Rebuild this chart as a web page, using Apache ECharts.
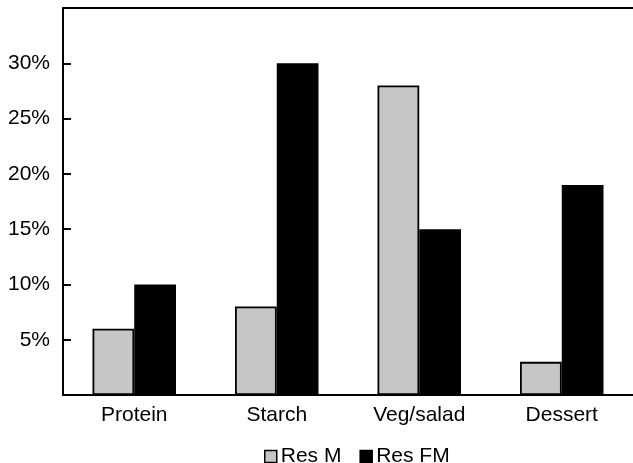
<!DOCTYPE html>
<html>
<head>
<meta charset="utf-8">
<script src="https://cdn.jsdelivr.net/npm/echarts@6/dist/echarts.min.js"></script>
<style>html,body{margin:0;padding:0;background:#fff;}#c{width:633px;height:463px;}</style>
</head>
<body>
<div id="c"></div>
<script>
var categories = ['Protein', 'Starch', 'Veg/salad', 'Dessert'];
var seriesNames = ['Res M', 'Res FM'];
var resM = [6, 8, 28, 3];
var resFM = [10, 30, 15, 19];

var chart = echarts.init(document.getElementById('c'), null, {renderer: 'canvas'});
var font = 'Liberation Sans, Arial, Helvetica, sans-serif';
chart.setOption({
  animation: false,
  backgroundColor: '#fff',
  grid: {left: 63, top: 8, width: 573, height: 387, containLabel: false},
  legend: {
    data: seriesNames,
    left: 259, top: 441,
    icon: 'rect', itemWidth: 12, itemHeight: 12, itemGap: 18, itemSymbolKeepAspect: true,
    textStyle: {fontFamily: font, fontSize: 21, color: '#000', padding: [0, 0, 0, -1]},
    itemStyle: {borderColor: '#000', borderWidth: 1.5}
  },
  xAxis: [{
    type: 'category',
    data: categories,
    axisLine: {lineStyle: {color: '#000', width: 2}},
    axisTick: {inside: true, length: 8, lineStyle: {color: '#000', width: 2}},
    axisLabel: {fontFamily: font, fontSize: 21, color: '#000', margin: 10}
  }, {
    type: 'category',
    data: categories,
    position: 'top',
    axisLine: {lineStyle: {color: '#000', width: 2}},
    axisTick: {show: false},
    axisLabel: {show: false}
  }],
  yAxis: {
    type: 'value',
    min: 0, max: 35, interval: 5,
    axisLine: {show: true, lineStyle: {color: '#000', width: 2}},
    axisTick: {show: true, inside: true, length: 8, lineStyle: {color: '#000', width: 2}},
    splitLine: {show: false},
    axisLabel: {
      fontFamily: font, fontSize: 21, color: '#000', margin: 13,
      formatter: function (v) { return (v === 0 || v === 35) ? '' : v + '%'; }
    }
  },
  series: [{
    name: seriesNames[0], type: 'bar', data: resM, xAxisIndex: 0,
    barWidth: '29.3%', barGap: '0%',
    itemStyle: {color: '#c6c6c6', borderColor: '#000', borderWidth: 1.8}
  }, {
    name: seriesNames[1], type: 'bar', data: resFM, xAxisIndex: 0,
    barWidth: '29.3%', barGap: '0%',
    itemStyle: {color: '#000', borderColor: '#000', borderWidth: 1.5}
  }]
});
</script>
</body>
</html>
